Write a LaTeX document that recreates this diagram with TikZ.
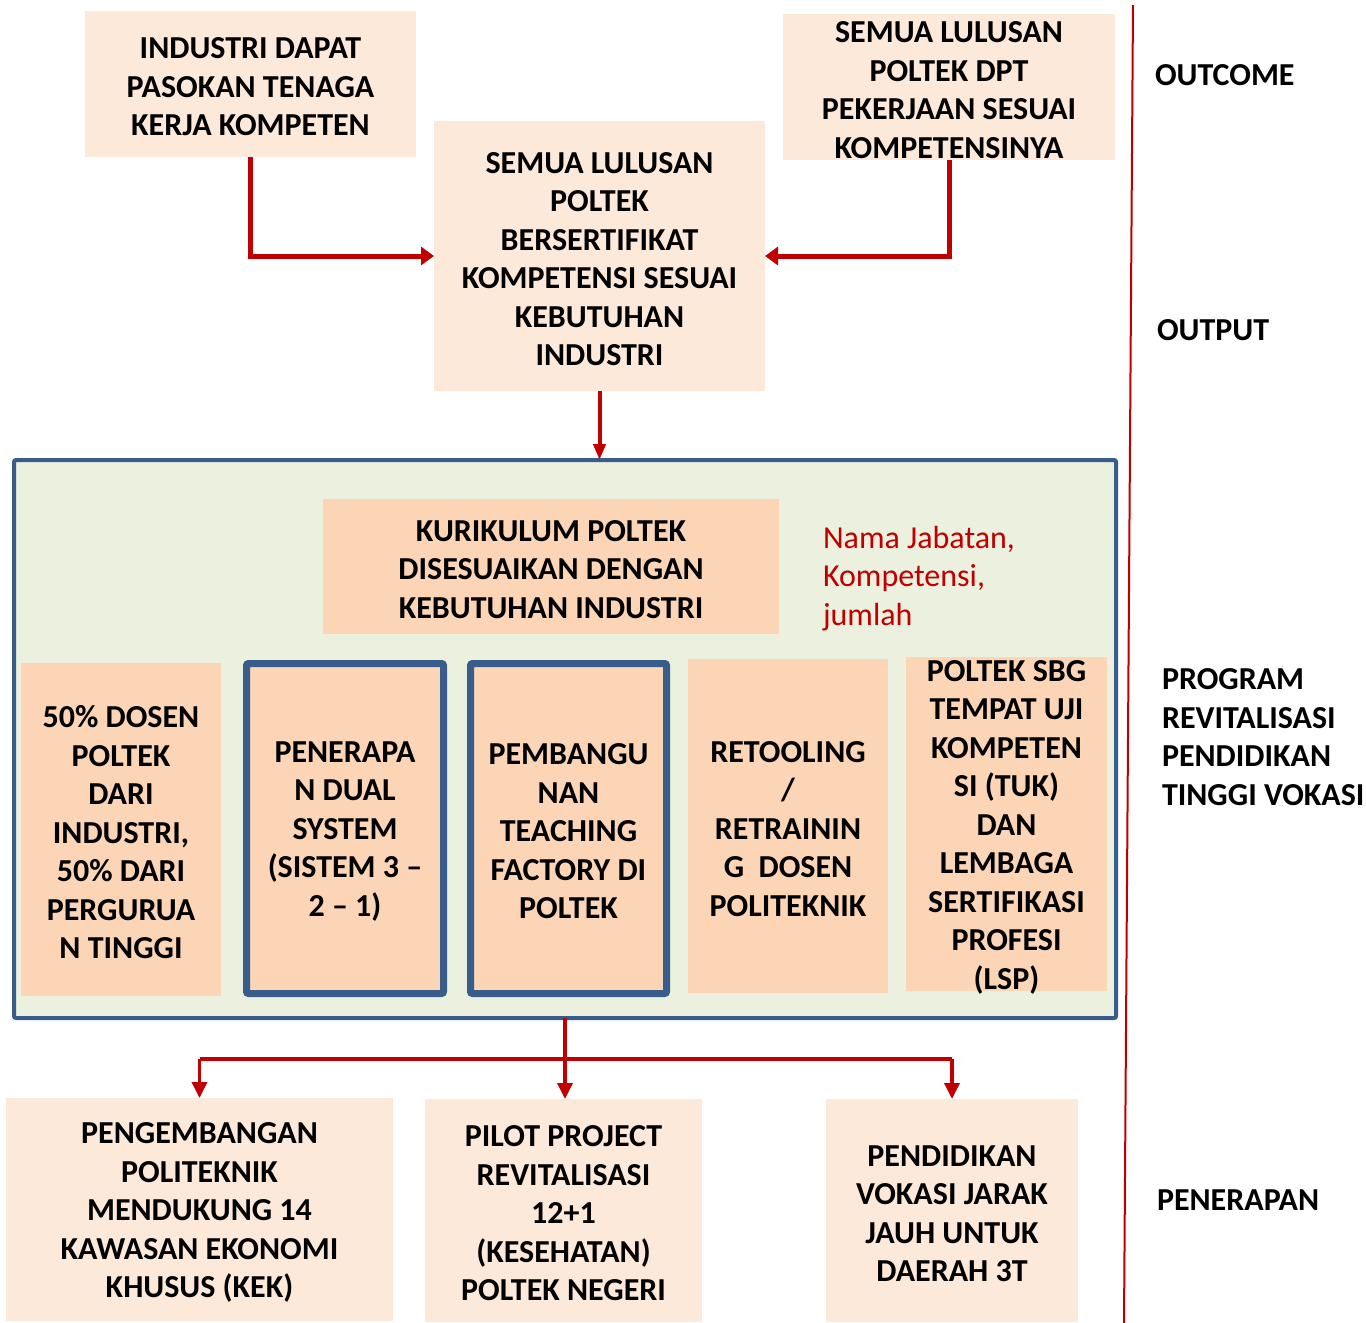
\documentclass[tikz,border=0pt]{standalone}
\usepackage{fontspec}
\setmainfont{Carlito}
\usetikzlibrary{arrows.meta}
\definecolor{pale}{HTML}{FDE9D9}
\definecolor{peach}{HTML}{FBD5B5}
\definecolor{cgreen}{HTML}{EBF1DE}
\definecolor{cblue}{HTML}{385D8A}
\definecolor{cred}{HTML}{C00000}
\begin{document}
\begin{tikzpicture}[x=1pt,y=-1pt,
  every node/.style={inner sep=0pt,outer sep=0pt},
  palebox/.style n args={2}{fill=pale,minimum width=#1,minimum height=#2},
  peachbox/.style n args={2}{fill=peach,minimum width=#1,minimum height=#2},
  bluebox/.style n args={2}{fill=peach,draw=cblue,line width=7pt,rounded corners=2pt,minimum width=#1,minimum height=#2},
  txt/.style={align=center,font=\fontsize{32}{38.5}\selectfont\bfseries,text=black,yshift=-3pt},
  sidelbl/.style={align=left,font=\fontsize{32}{38.5}\selectfont\bfseries,text=black},
  redtxt/.style={align=left,font=\fontsize{32}{38.5}\selectfont,text=cred},
  bigarrow/.style={draw=cred,line width=5pt,-{Triangle[length=13pt,width=18pt]}},
  midarrow/.style={draw=cred,line width=4pt,-{Triangle[length=16pt,width=12pt]}},
  smallarrow/.style={draw=cred,line width=3.5pt,-{Triangle[length=16pt,width=15pt]}},
  redline/.style={draw=cred,line width=4pt}]
\useasboundingbox (0,0) rectangle (1366,1323);

% top row
\node[palebox={331}{146}] (a) at (250.5,84) {};
\node[txt] (at) at (a.center) {INDUSTRI DAPAT\\PASOKAN TENAGA\\KERJA KOMPETEN};
\node[palebox={331}{270}] (b) at (599.5,256) {};
\node[txt] (bt) at (b.center) {SEMUA LULUSAN\\POLTEK\\BERSERTIFIKAT\\KOMPETENSI SESUAI\\KEBUTUHAN\\INDUSTRI};
\node[palebox={332}{146}] (c) at (949,87) {};
\node[txt] (ct) at (c.center) {SEMUA LULUSAN\\POLTEK DPT\\PEKERJAAN SESUAI\\KOMPETENSINYA};

% container
\node[fill=cgreen,draw=cblue,line width=4pt,rounded corners=2pt,minimum width=1102,minimum height=558] (cont) at (565,739) {};
\node[peachbox={456}{135}] (k) at (551,566.5) {};
\node[txt] (kt) at (k.center) {KURIKULUM POLTEK\\DISESUAIKAN DENGAN\\KEBUTUHAN INDUSTRI};
\node[redtxt,anchor=north west] (nj) at (823,526) {Nama Jabatan,\\Kompetensi,\\jumlah};

\node[peachbox={200}{333}] (d1) at (121,829.5) {};
\node[txt] (d1t) at (d1.center) {50\% DOSEN\\POLTEK\\DARI\\INDUSTRI,\\50\% DARI\\PERGURUA\\N TINGGI};
\node[bluebox={197}{330}] (d2) at (345,828.5) {};
\node[txt] (d2t) at (d2.center) {PENERAPA\\N DUAL\\SYSTEM\\(SISTEM 3 –\\2 – 1)};
\node[bluebox={196}{330}] (d3) at (568.5,828.5) {};
\node[txt] (d3t) at (d3.center) {PEMBANGU\\NAN\\TEACHING\\FACTORY DI\\POLTEK};
\node[peachbox={200}{334}] (d4) at (788,826) {};
\node[txt] (d4t) at (d4.center) {RETOOLING\\/\\RETRAININ\\G\ \ DOSEN\\POLITEKNIK};
\node[peachbox={201}{334}] (d5) at (1006.5,824) {};
\node[txt] (d5t) at (d5.center) {POLTEK SBG\\TEMPAT UJI\\KOMPETEN\\SI (TUK)\\DAN\\LEMBAGA\\SERTIFIKASI\\PROFESI\\(LSP)};

% bottom row
\node[palebox={387}{223}] (p1) at (199.5,1209.5) {};
\node[txt] (p1t) at (p1.center) {PENGEMBANGAN\\POLITEKNIK\\MENDUKUNG 14\\KAWASAN EKONOMI\\KHUSUS (KEK)};
\node[palebox={277}{223}] (p2) at (563.5,1210.5) {};
\node[txt] (p2t) at (p2.center) {PILOT PROJECT\\REVITALISASI\\12+1\\(KESEHATAN)\\POLTEK NEGERI};
\node[palebox={252}{223}] (p3) at (952,1210.5) {};
\node[txt] (p3t) at (p3.center) {PENDIDIKAN\\VOKASI JARAK\\JAUH UNTUK\\DAERAH 3T};

% side labels
\coordinate (vt) at (1133,5);
\coordinate (vb) at (1124,1323);
\draw[cred,line width=2pt] (vt) -- (vb);
\node[sidelbl,anchor=base west] (l1) at (1155,85) {OUTCOME};
\node[sidelbl,anchor=base west] (l2) at (1157,340) {OUTPUT};
\node[sidelbl,anchor=north west] (l3) at (1162,669) {PROGRAM\\REVITALISASI\\PENDIDIKAN\\TINGGI VOKASI};
\node[sidelbl,anchor=base west] (l4) at (1157,1210) {PENERAPAN};

% connectors
\draw[bigarrow] (a.south) -- (a.south |- b.west) -- (b.west);
\draw[bigarrow] (c.south) -- (c.south |- b.east) -- (b.east);
\draw[midarrow] (b.south) -- (b.south |- cont.north);
\coordinate (junc) at (565,1059);
\draw[redline] (cont.south) -- (junc);
\draw[redline] (junc -| p1.north) -- (junc -| p3.north);
\draw[smallarrow] (junc -| p1.north) -- (p1.north);
\draw[smallarrow] (junc) -- (junc |- p2.north);
\draw[smallarrow] (junc -| p3.north) -- (p3.north);
\end{tikzpicture}
\end{document}
